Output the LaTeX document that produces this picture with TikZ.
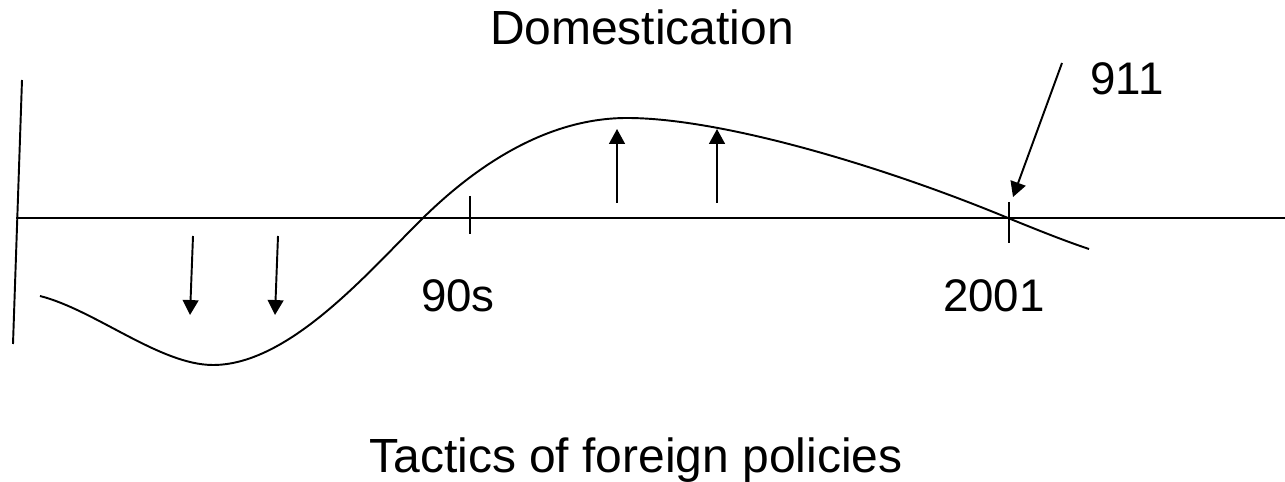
\documentclass[tikz,border=0pt]{standalone}
\usepackage{fontspec}
\setmainfont{Liberation Sans}
\usepackage{tikz}
\usetikzlibrary{arrows.meta}

\begin{document}
\begin{tikzpicture}[x=0.02cm, y=-0.02cm, line width=1.1pt,
  every node/.style={font=\fontsize{26}{30}\selectfont, inner sep=0pt, anchor=base},
  bigtext/.style={font=\fontsize{27.3}{32}\selectfont},
  pusharrow/.style={-{Triangle[length=8.5pt,width=9pt]}}]
\useasboundingbox (0,0) rectangle (1285,482);
% axes
\draw (22,80) -- (13,344);
\draw (16,218) -- (1285,218);
% ticks at 90s and 2001
\coordinate (t90) at (470,218);
\coordinate (t01) at (1009,218);
\draw (t90) ++(0,-22) -- ++(0,38);
\draw (t01) ++(0,-16) -- ++(0,41);
% the wave
\draw (40,296) .. controls (95,310) and (160,365) .. (213,365)
  .. controls (290,365) and (370,270) .. (423,218)
  .. controls (480,162) and (550,118) .. (627,118)
  .. controls (720,118) and (880,165) .. (1008,218)
  .. controls (1040,231) and (1065,241) .. (1089,249);
% pushes down, then up
\foreach \x in {193,278} \draw[pusharrow] (\x,236) -- (\x-3,315);
\foreach \x in {617,717} \draw[pusharrow] (\x,203) -- (\x,129);
% labels
\node[bigtext] (dom) at (642,45) {Domestication};
\node (n911) at (1127,95) {911};
\node (n90s) at (458,312) {90s};
\node (n2001) at (994,312) {2001};
\node[bigtext] (tac) at (636,473) {Tactics of foreign policies};
\coordinate (from911) at (1062,63);
\coordinate (to911) at (1013,197);
\draw[pusharrow] (from911) -- (to911);
\end{tikzpicture}
\end{document}
